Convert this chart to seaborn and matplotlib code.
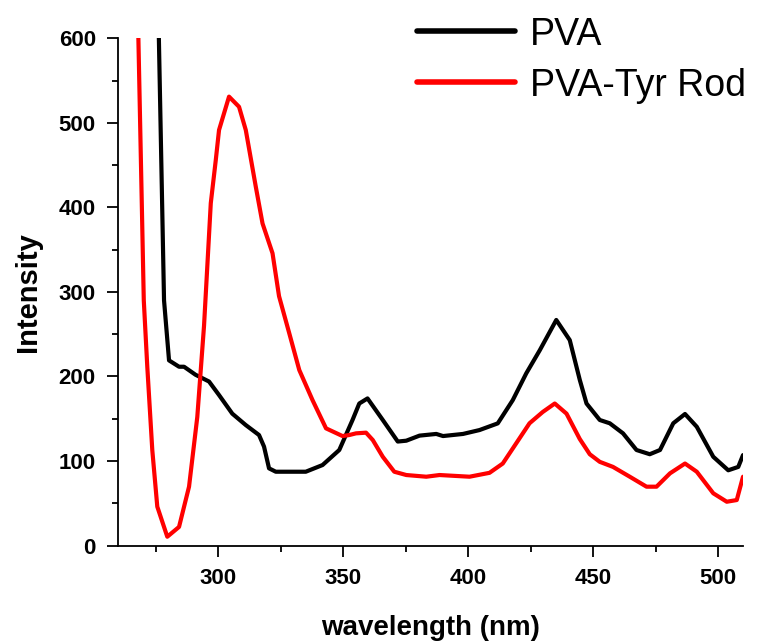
import numpy as np
import pandas as pd
import seaborn as sns
import matplotlib.pyplot as plt
from matplotlib.ticker import MultipleLocator

sns.set_style("ticks")
plt.rcParams['font.family'] = ['Liberation Sans', 'DejaVu Sans']
plt.rcParams['text.color'] = 'black'
plt.rcParams['axes.labelcolor'] = 'black'
plt.rcParams['xtick.color'] = 'black'
plt.rcParams['ytick.color'] = 'black'
plt.rcParams['axes.edgecolor'] = 'black'

# PVA spectrum
pva_wl = [276.2, 278.4, 280.4, 284.4, 286.4, 291.0, 296.4, 300.4, 305.7, 311.1,
          316.4, 318.4, 320.4, 323.1, 335.1, 341.8, 348.5, 353.8, 356.5, 359.8,
          365.9, 371.9, 375.3, 380.6, 387.3, 390.0, 398.0, 404.6, 411.9, 417.9,
          423.3, 428.7, 435.3, 440.7, 444.7, 447.4, 452.7, 456.7, 462.0, 467.4,
          472.7, 476.8, 482.1, 486.8, 491.5, 498.1, 504.1, 508.1, 510.0]
pva_int = [620, 290, 219, 211.5, 211.5, 202, 194, 178, 156, 142.5,
           130.7, 117, 91.3, 87.3, 87.3, 95.2, 113, 148.5, 168, 174,
           148.5, 123, 124, 130, 132, 129.5, 132, 136.6, 144.5, 172,
           203.7, 231, 266.8, 243, 196, 168, 148.5, 144.6, 132.7, 113,
           108, 113, 144.6, 155.6, 140.5, 105, 89, 93, 107]

# PVA-Tyr Rod spectrum
rod_wl = [268.0, 270.3, 271.7, 273.7, 275.7, 279.7, 284.4, 288.4, 291.7, 294.4,
          297.1, 299.1, 300.4, 304.4, 308.4, 311.1, 315.1, 317.8, 321.8, 324.4,
          328.5, 332.5, 337.8, 343.2, 349.8, 352.5, 355.2, 359.2, 361.9, 365.9,
          370.5, 375.3, 383.3, 388.6, 400.6, 408.6, 413.9, 419.3, 424.6, 429.9,
          434.7, 439.4, 444.7, 448.7, 452.7, 458.0, 464.7, 471.4, 475.4, 480.8,
          486.8, 491.5, 498.1, 503.5, 507.5, 510.0]
rod_int = [620, 290, 211.5, 113, 46, 10.4, 22, 69.6, 152, 260,
           405, 456, 491.5, 531, 519, 491.5, 424.5, 381, 345.7, 295,
           251, 207.6, 172, 138.6, 129.5, 130.7, 132.7, 133.5, 124.8, 105,
           87.3, 83.4, 81.4, 83.4, 81.4, 86, 97, 121, 144.6, 158,
           168, 156, 126, 108, 99, 93, 81.4, 69.6, 69.6, 85.4,
           97, 87.3, 61.8, 51.8, 53.8, 81.4]

df = pd.concat([
    pd.DataFrame({'wavelength': pva_wl, 'intensity': pva_int, 'sample': 'PVA'}),
    pd.DataFrame({'wavelength': rod_wl, 'intensity': rod_int, 'sample': 'PVA-Tyr Rod'}),
])

fig = plt.figure(figsize=(7.73, 6.43), dpi=100)
ax = fig.add_axes([0.1527, 0.1516, 0.8085, 0.7888])

sns.lineplot(data=df, x='wavelength', y='intensity', hue='sample',
             palette={'PVA': 'black', 'PVA-Tyr Rod': 'red'},
             estimator=None, linewidth=3, ax=ax)

ax.set_xlim(260, 510)
ax.set_ylim(0, 600)
ax.xaxis.set_major_locator(MultipleLocator(50))
ax.xaxis.set_minor_locator(MultipleLocator(25))
ax.yaxis.set_major_locator(MultipleLocator(100))
ax.yaxis.set_minor_locator(MultipleLocator(50))
ax.tick_params(which='major', direction='out', length=8, width=1.3, pad=8, labelsize=16)
ax.tick_params(which='minor', direction='out', length=4, width=1.3)
for lab in ax.get_xticklabels() + ax.get_yticklabels():
    lab.set_fontweight('bold')
for s in ['top', 'right']:
    ax.spines[s].set_visible(False)
for s in ['left', 'bottom']:
    ax.spines[s].set_linewidth(1.3)

ax.set_xlabel('wavelength (nm)', fontsize=20, fontweight='bold', labelpad=19)
ax.set_ylabel('Intensity', fontsize=21, fontweight='bold', labelpad=12)

leg = ax.legend(loc='upper left', bbox_to_anchor=(0.479, 1.043), frameon=False,
                fontsize=27, handlelength=2.6, handletextpad=0.4,
                labelspacing=0.4, borderpad=0, borderaxespad=0)
for line in leg.get_lines():
    line.set_linewidth(4)

fig.savefig('out.png', dpi=100)
